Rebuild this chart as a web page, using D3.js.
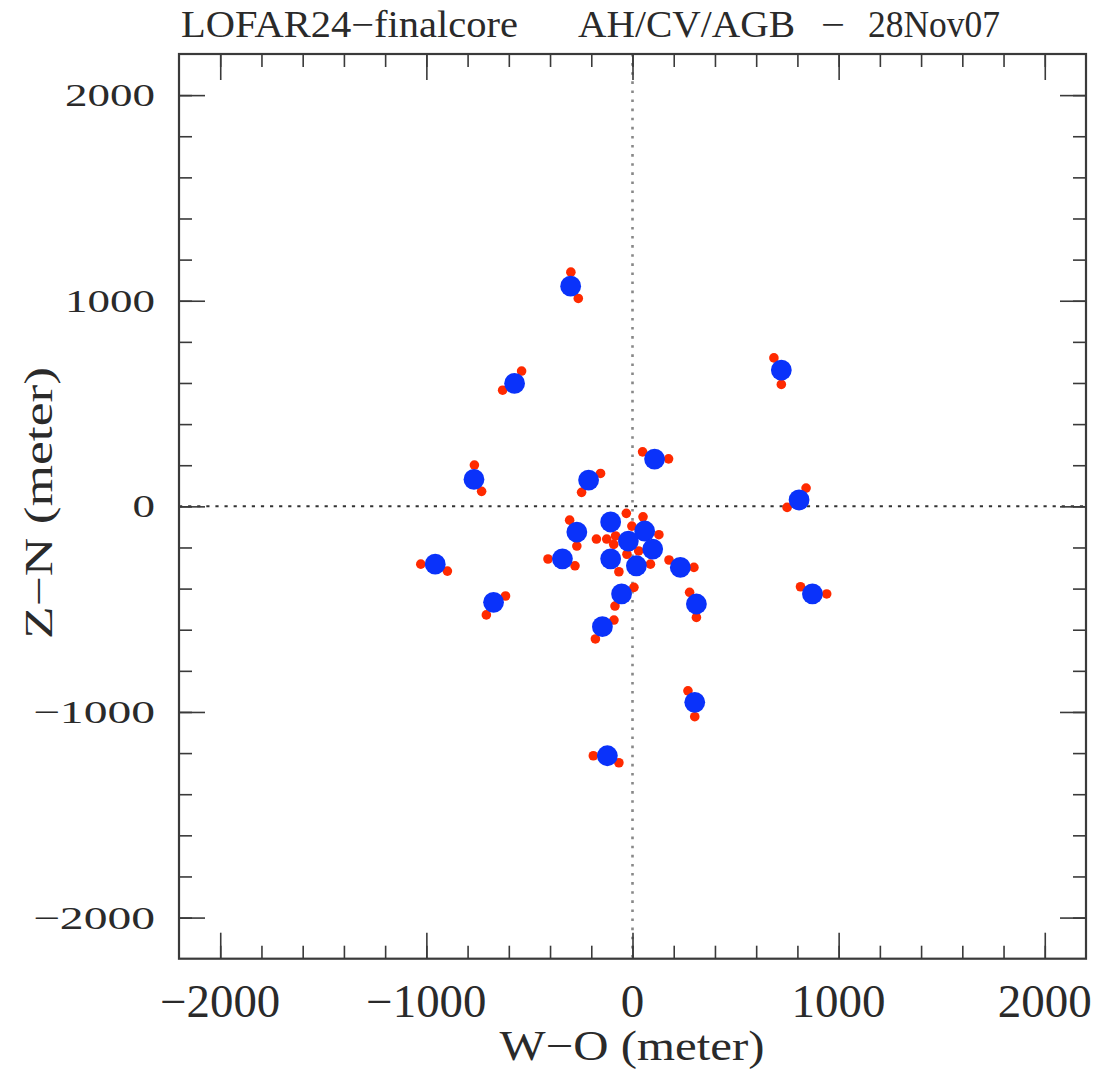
<!DOCTYPE html>
<html><head><meta charset="utf-8">
<script src="https://cdn.jsdelivr.net/npm/d3@7"></script>
<style>body{margin:0;background:#fff} text{font-family:"Liberation Serif","DejaVu Serif",serif;fill:#2a2a2a;white-space:pre}</style>
</head><body><svg id="c" width="1099" height="1070" xmlns="http://www.w3.org/2000/svg"></svg>
<script>
// Station (blue) positions, metres
const stationX = [-300,-572,722,808,873,310,107,-213,-769,-106,-270,59,-20,98,-340,-106,19,232,-53,-146,-674,-957,302,-122];
const stationY = [1071,598,663,31,-426,-475,230,128,131,-76,-125,-120,-169,-208,-255,-255,-289,-297,-426,-585,-467,-281,-953,-1213];
// Sub-field (red) positions, metres
const subX = [-299,-263,-538,-630,686,722,49,175,-155,-247,-767,-732,842,750,815,942,277,310,269,302,-190,-66,-1027,-898,-616,-709,-90,-180,7,-85,177,298,-410,-279,-305,-270,-30,51,-175,-125,-82,-91,-3,128,-27,30,87,-66];
const subY = [1139,1011,658,565,722,593,265,231,160,68,201,73,89,-5,-391,-426,-418,-540,-897,-1023,-1213,-1247,-281,-315,-436,-528,-553,-645,-394,-485,-261,-297,-256,-289,-67,-193,-34,-51,-159,-159,-144,-185,-96,-138,-233,-217,-281,-318];
const majorTicks = [-2000,-1000,0,1000,2000];
const tickLabels = ["\u22122000","\u22121000","0","1000","2000"];
const titleParts = ["LOFAR24\u2212finalcore", "AH/CV/AGB", "\u2212", "28Nov07"];
const xTitle = "W\u2212O (meter)";
const yTitle = "Z\u2212N (meter)";

const svg = d3.select("#c");
const L=179, R=1086, T=54, B=958.7;
const x = d3.scaleLinear().domain([-2200,2200]).range([L,R]);
const y = d3.scaleLinear().domain([-2200,2200]).range([B,T]);
const minorTicks = d3.range(-2000,2001,200);
const frameCol = "#3a3a3a";

// zero lines
svg.append("line").attr("x1",L).attr("x2",R).attr("y1",y(0)).attr("y2",y(0))
  .attr("stroke","#333").attr("stroke-width",2).attr("stroke-dasharray","3.2,5.9");
svg.append("line").attr("y1",T).attr("y2",B).attr("x1",x(0)).attr("x2",x(0))
  .attr("stroke","#888").attr("stroke-width",2.6).attr("stroke-dasharray","2.6,6.5");

// axes (inward ticks on all four sides)
function addAxis(axisFn, scale, tr, size, vals){
  const g = svg.append("g").attr("transform",tr)
    .call(axisFn(scale).tickValues(vals).tickSize(size).tickFormat(""));
  g.select(".domain").remove();
  g.selectAll(".tick line").attr("stroke",frameCol).attr("stroke-width",1.6);
}
addAxis(d3.axisBottom, x, `translate(0,${B})`, -13, minorTicks);
addAxis(d3.axisBottom, x, `translate(0,${B})`, -26, majorTicks);
addAxis(d3.axisTop, x, `translate(0,${T})`, -13, minorTicks);
addAxis(d3.axisTop, x, `translate(0,${T})`, -26, majorTicks);
addAxis(d3.axisLeft, y, `translate(${L},0)`, -13, minorTicks);
addAxis(d3.axisLeft, y, `translate(${L},0)`, -26, majorTicks);
addAxis(d3.axisRight, y, `translate(${R},0)`, -13, minorTicks);
addAxis(d3.axisRight, y, `translate(${R},0)`, -26, majorTicks);

svg.append("rect").attr("x",L).attr("y",T).attr("width",R-L).attr("height",B-T)
  .attr("fill","none").attr("stroke",frameCol).attr("stroke-width",2.2);

// points
svg.append("g").selectAll("circle").data(subX).join("circle")
  .attr("cx",(d)=>x(d)).attr("cy",(d,i)=>y(subY[i])).attr("r",4.8).attr("fill","#ff2a00");
svg.append("g").selectAll("circle").data(stationX).join("circle")
  .attr("cx",(d)=>x(d)).attr("cy",(d,i)=>y(stationY[i])).attr("r",10.4).attr("fill","#0a32fa");

// x tick labels
svg.append("g").selectAll("text").data(majorTicks).join("text")
  .attr("x",d=>x(d)).attr("y",1017).attr("text-anchor","middle")
  .attr("font-size",46)
  .attr("textLength",(d,i)=>tickLabels[i].replace("\u2212","").length*23.5 + (tickLabels[i].startsWith("\u2212")?26:0))
  .attr("lengthAdjust","spacingAndGlyphs")
  .text((d,i)=>tickLabels[i]);
// y tick labels (wide)
svg.append("g").selectAll("text").data(majorTicks).join("text")
  .attr("x",155).attr("y",d=>y(d)+11).attr("text-anchor","end")
  .attr("font-size",32)
  .attr("textLength",(d,i)=>tickLabels[i].replace("\u2212","").length*22.5 + (tickLabels[i].startsWith("\u2212")?32:0))
  .attr("lengthAdjust","spacingAndGlyphs")
  .text((d,i)=>tickLabels[i]);

// title, placed word by word
const titleX = [181, 578, 821, 868], titleW = [337, 217, 24, 132];
svg.append("g").selectAll("text").data(titleParts).join("text")
  .attr("x",(d,i)=>titleX[i]).attr("y",37).attr("font-size",37)
  .attr("textLength",(d,i)=>titleW[i]).attr("lengthAdjust","spacingAndGlyphs").text(d=>d);
svg.append("text").attr("x",632).attr("y",1060).attr("text-anchor","middle").attr("font-size",42)
  .attr("textLength",265).attr("lengthAdjust","spacingAndGlyphs").text(xTitle);
svg.append("text").attr("transform","translate(52,503) rotate(-90)").attr("text-anchor","middle")
  .attr("font-size",40).attr("textLength",272).attr("lengthAdjust","spacingAndGlyphs").text(yTitle);
</script></body></html>
